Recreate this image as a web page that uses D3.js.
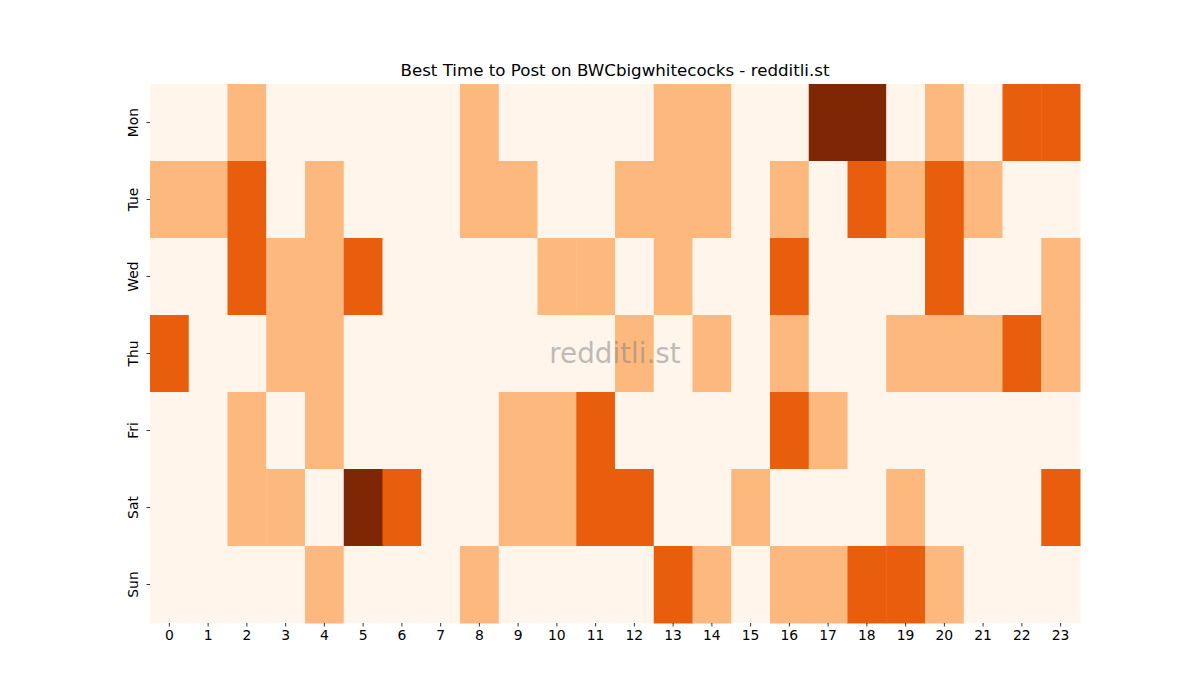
<!DOCTYPE html>
<html><head><meta charset="utf-8">
<script src="https://cdn.jsdelivr.net/npm/d3@7"></script>
<style>body{margin:0;background:#fff}svg{display:block}text{font-family:"DejaVu Sans",sans-serif}</style>
</head><body>
<svg id="c" width="1200" height="700"></svg>
<script>
const days = ["Mon","Tue","Wed","Thu","Fri","Sat","Sun"];
const hours = d3.range(24).map(String);
const mon = [0,0,1,0,0,0,0,0,1,0,0,0,0,1,1,0,0,3,3,0,1,0,2,2];
const tue = [1,1,2,0,1,0,0,0,1,1,0,0,1,1,1,0,1,0,2,1,2,1,0,0];
const wed = [0,0,2,1,1,2,0,0,0,0,1,1,0,1,0,0,2,0,0,0,2,0,0,1];
const thu = [2,0,0,1,1,0,0,0,0,0,0,0,1,0,1,0,1,0,0,1,1,1,2,1];
const fri = [0,0,1,0,1,0,0,0,0,1,1,2,0,0,0,0,2,1,0,0,0,0,0,0];
const sat = [0,0,1,1,0,3,2,0,0,1,1,2,2,0,0,1,0,0,0,1,0,0,0,2];
const sun = [0,0,0,0,1,0,0,0,1,0,0,0,0,2,1,0,1,1,2,2,1,0,0,0];
const rows = [mon,tue,wed,thu,fri,sat,sun];
const title = "Best Time to Post on BWCbigwhitecocks - redditli.st";

const svg = d3.select("#c");
const L=150,R=1080,T=84,B=623;
const x = d3.scaleBand().domain(hours).range([L,R]);
const y = d3.scaleBand().domain(days).range([T,B]);
const color = d3.scaleOrdinal().domain([0,1,2,3]).range(["#fff5eb","#fdb97d","#e95e0d","#7f2704"]);

const cells = [];
rows.forEach((r,i)=>r.forEach((v,j)=>cells.push({d:days[i],h:hours[j],v})));
svg.append("g").selectAll("rect").data(cells).join("rect")
  .attr("x",d=>x(d.h)).attr("y",d=>y(d.d))
  .attr("width",x.bandwidth()+0.5).attr("height",y.bandwidth()+0.5)
  .attr("fill",d=>color(d.v));

const xa = svg.append("g").attr("transform",`translate(0,${B})`)
  .call(d3.axisBottom(x).tickSize(3.5).tickPadding(3.5));
xa.select(".domain").remove();
xa.selectAll("text").attr("font-size",13.9).attr("fill","#000").attr("font-family","DejaVu Sans");
xa.selectAll("line").attr("stroke","#000").attr("stroke-width",0.8);

const ya = svg.append("g").attr("transform",`translate(${L},0)`)
  .call(d3.axisLeft(y).tickSize(3.5).tickPadding(4));
ya.select(".domain").remove();
ya.selectAll("line").attr("stroke","#000").attr("stroke-width",0.8);
ya.selectAll("text").attr("font-size",13.9).attr("fill","#000").attr("font-family","DejaVu Sans")
  .attr("text-anchor","middle").attr("dy","0").attr("x",0).attr("y",0)
  .attr("transform","translate(-12,0) rotate(-90)");

svg.append("text").attr("x",(L+R)/2).attr("y",76).attr("text-anchor","middle")
  .attr("font-size",16.67).attr("fill","#000").text(title);

svg.append("text").attr("x",(L+R)/2).attr("y",363).attr("text-anchor","middle")
  .attr("font-size",27.8).attr("fill","#808080").attr("fill-opacity",0.5).text("redditli.st");
</script>
</body></html>
